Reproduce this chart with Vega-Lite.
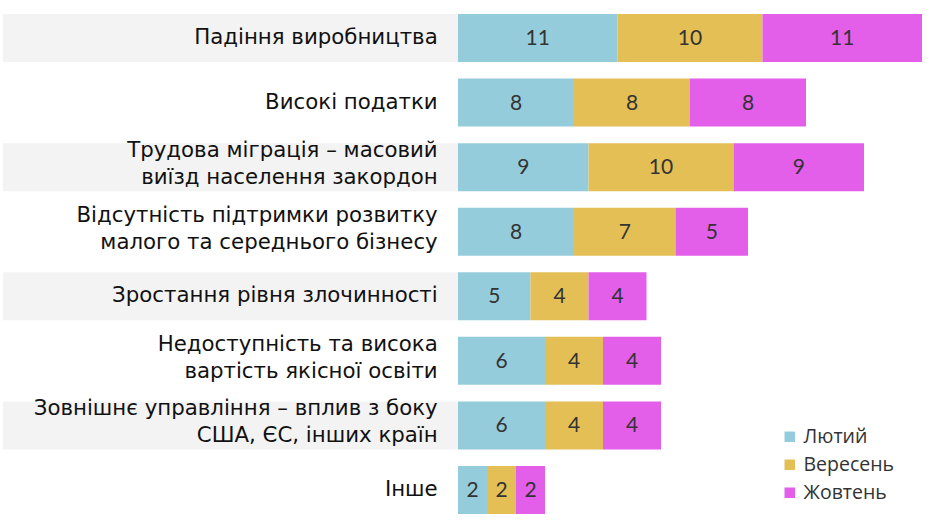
{
  "$schema": "https://vega.github.io/schema/vega-lite/v6.json",
  "width": 938,
  "height": 528,
  "autosize": "none",
  "padding": 0,
  "background": "white",
  "config": {"view": {"stroke": null}},
  "datasets": {
    "main": [
      {"cat": "Падіння виробництва", "month": "Лютий", "m": 1, "value": 11},
      {"cat": "Падіння виробництва", "month": "Вересень", "m": 2, "value": 10},
      {"cat": "Падіння виробництва", "month": "Жовтень", "m": 3, "value": 11},
      {"cat": "Високі податки", "month": "Лютий", "m": 1, "value": 8},
      {"cat": "Високі податки", "month": "Вересень", "m": 2, "value": 8},
      {"cat": "Високі податки", "month": "Жовтень", "m": 3, "value": 8},
      {"cat": "Трудова міграція – масовий\nвиїзд населення закордон", "month": "Лютий", "m": 1, "value": 9},
      {"cat": "Трудова міграція – масовий\nвиїзд населення закордон", "month": "Вересень", "m": 2, "value": 10},
      {"cat": "Трудова міграція – масовий\nвиїзд населення закордон", "month": "Жовтень", "m": 3, "value": 9},
      {"cat": "Відсутність підтримки розвитку\nмалого та середнього бізнесу", "month": "Лютий", "m": 1, "value": 8},
      {"cat": "Відсутність підтримки розвитку\nмалого та середнього бізнесу", "month": "Вересень", "m": 2, "value": 7},
      {"cat": "Відсутність підтримки розвитку\nмалого та середнього бізнесу", "month": "Жовтень", "m": 3, "value": 5},
      {"cat": "Зростання рівня злочинності", "month": "Лютий", "m": 1, "value": 5},
      {"cat": "Зростання рівня злочинності", "month": "Вересень", "m": 2, "value": 4},
      {"cat": "Зростання рівня злочинності", "month": "Жовтень", "m": 3, "value": 4},
      {"cat": "Недоступність та висока\nвартість якісної освіти", "month": "Лютий", "m": 1, "value": 6},
      {"cat": "Недоступність та висока\nвартість якісної освіти", "month": "Вересень", "m": 2, "value": 4},
      {"cat": "Недоступність та висока\nвартість якісної освіти", "month": "Жовтень", "m": 3, "value": 4},
      {"cat": "Зовнішнє управління – вплив з боку\nСША, ЄС, інших країн", "month": "Лютий", "m": 1, "value": 6},
      {"cat": "Зовнішнє управління – вплив з боку\nСША, ЄС, інших країн", "month": "Вересень", "m": 2, "value": 4},
      {"cat": "Зовнішнє управління – вплив з боку\nСША, ЄС, інших країн", "month": "Жовтень", "m": 3, "value": 4},
      {"cat": "Інше", "month": "Лютий", "m": 1, "value": 2},
      {"cat": "Інше", "month": "Вересень", "m": 2, "value": 2},
      {"cat": "Інше", "month": "Жовтень", "m": 3, "value": 2}
    ],
    "shaded": [
      {"cat": "Падіння виробництва"},
      {"cat": "Трудова міграція – масовий\nвиїзд населення закордон"},
      {"cat": "Зростання рівня злочинності"},
      {"cat": "Зовнішнє управління – вплив з боку\nСША, ЄС, інших країн"}
    ],
    "cats": [
      {"cat": "Падіння виробництва"},
      {"cat": "Високі податки"},
      {"cat": "Трудова міграція – масовий\nвиїзд населення закордон"},
      {"cat": "Відсутність підтримки розвитку\nмалого та середнього бізнесу"},
      {"cat": "Зростання рівня злочинності"},
      {"cat": "Недоступність та висока\nвартість якісної освіти"},
      {"cat": "Зовнішнє управління – вплив з боку\nСША, ЄС, інших країн"},
      {"cat": "Інше"}
    ]
  },
  "resolve": {"scale": {"y": "shared", "x": "shared"}},
  "layer": [
    {
      "data": {"name": "shaded"},
      "mark": {"type": "bar", "color": "#f3f3f3"},
      "encoding": {
        "y": {"field": "cat", "type": "nominal", "axis": null,
              "sort": null,
              "scale": {"domain": [
                "Падіння виробництва",
                "Високі податки",
                "Трудова міграція – масовий\nвиїзд населення закордон",
                "Відсутність підтримки розвитку\nмалого та середнього бізнесу",
                "Зростання рівня злочинності",
                "Недоступність та висока\nвартість якісної освіти",
                "Зовнішнє управління – вплив з боку\nСША, ЄС, інших країн",
                "Інше"
              ], "paddingInner": 0.2566, "paddingOuter": 0.2168}},
        "x": {"datum": -31.38, "type": "quantitative", "axis": null,
              "scale": {"domain": [-31.586, 33.103], "nice": false, "zero": false}},
        "x2": {"datum": 0}
      }
    },
    {
      "data": {"name": "cats"},
      "transform": [{"filter": "indexof(datum.cat, '\\n') < 0"}],
      "mark": {"type": "text", "align": "right", "baseline": "middle", "font": "DejaVu Sans", "fontSize": 21.3, "color": "#111111"},
      "encoding": {
        "y": {"field": "cat", "type": "nominal"},
        "x": {"datum": -1.4, "type": "quantitative"},
        "text": {"field": "cat"}
      }
    },
    {
      "data": {"name": "cats"},
      "transform": [{"filter": "indexof(datum.cat, '\\n') >= 0"}],
      "mark": {"type": "text", "align": "right", "baseline": "middle", "font": "DejaVu Sans", "fontSize": 21.3, "color": "#111111", "lineBreak": "\n", "lineHeight": 27, "dy": -16},
      "encoding": {
        "y": {"field": "cat", "type": "nominal"},
        "x": {"datum": -1.4, "type": "quantitative"},
        "text": {"field": "cat"}
      }
    },
    {
      "data": {"name": "main"},
      "transform": [
        {"stack": "value", "groupby": ["cat"], "sort": [{"field": "m", "order": "ascending"}], "as": ["x0", "x1"]},
        {"calculate": "(datum.x0 + datum.x1) / 2", "as": "mid"}
      ],
      "layer": [
        {
          "mark": {"type": "bar"},
          "encoding": {
            "y": {"field": "cat", "type": "nominal"},
            "x": {"field": "x0", "type": "quantitative"},
            "x2": {"field": "x1"},
            "color": {"field": "month", "type": "nominal",
              "scale": {"domain": ["Лютий", "Вересень", "Жовтень"], "range": ["#95ccdc", "#e3bf56", "#e35fea"]},
              "legend": {"title": null, "orient": "none", "legendX": 780, "legendY": 427,
                         "symbolType": "square", "symbolSize": 110, "symbolStrokeWidth": 0,
                         "labelFont": "Open Sans", "labelFontSize": 19.5, "labelColor": "#333333",
                         "rowPadding": 7, "labelOffset": 4}
            }
          }
        },
        {
          "mark": {"type": "text", "align": "center", "baseline": "middle", "font": "Lato", "fontSize": 21, "color": "#333333", "dy": 1},
          "encoding": {
            "y": {"field": "cat", "type": "nominal"},
            "x": {"field": "mid", "type": "quantitative"},
            "text": {"field": "value", "type": "quantitative"}
          }
        }
      ]
    }
  ]
}
